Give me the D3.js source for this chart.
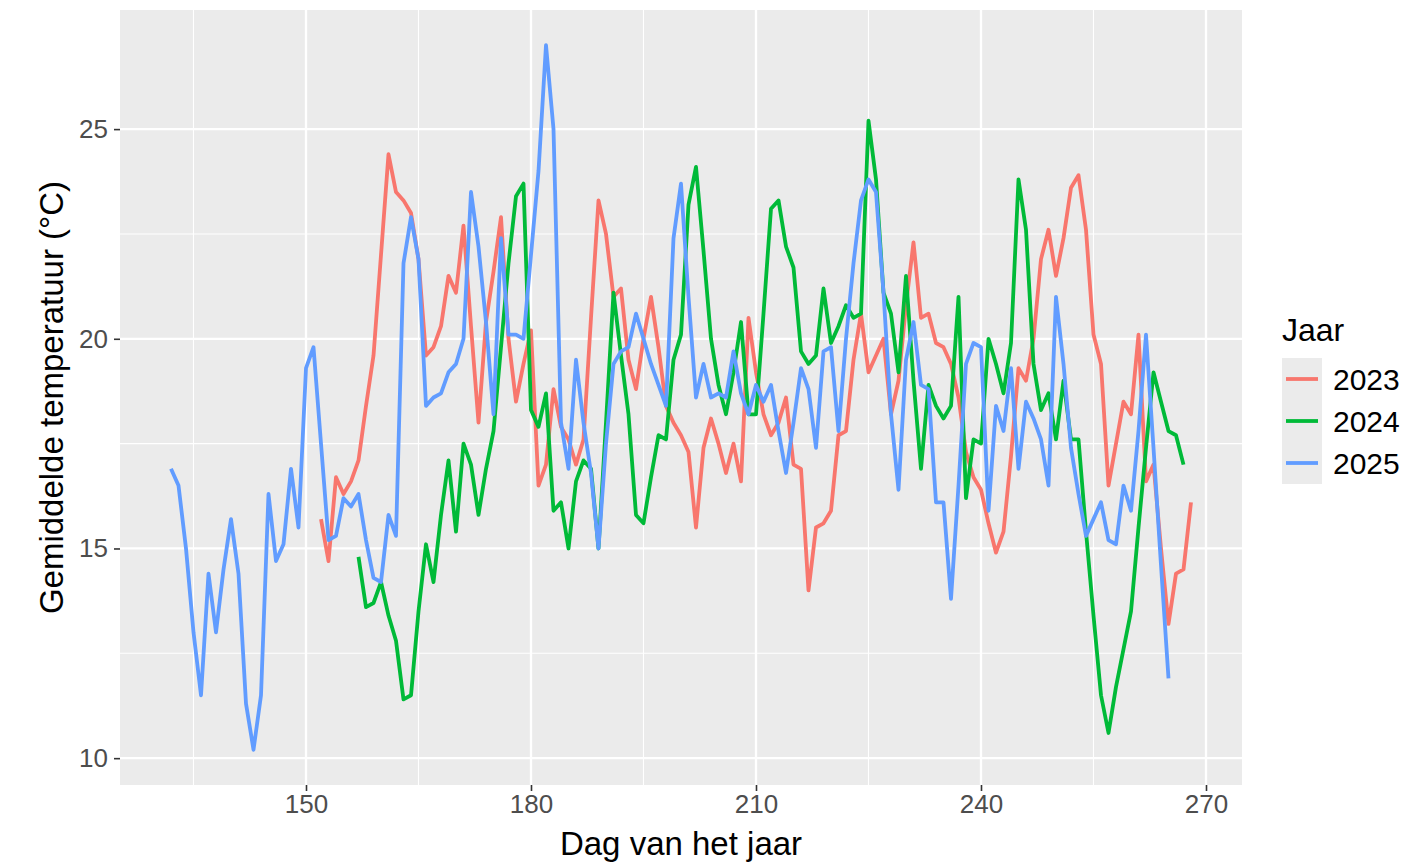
<!DOCTYPE html>
<html>
<head>
<meta charset="utf-8">
<script src="https://cdn.jsdelivr.net/npm/d3@7"></script>
<style>
  body { margin: 0; background: #fff; }
  svg text { font-family: "Liberation Sans", Arial, sans-serif; }
</style>
</head>
<body>
<svg id="chart" width="1426" height="865"></svg>
<script>
// data: mean daily temperature per year, by day of year
var days2023 = d3.range(152, 269);
var temp2023 = [15.7, 14.7, 16.7, 16.3, 16.6, 17.1, 18.4, 19.6, 22.0, 24.4,
  23.5, 23.3, 23.0, 21.9, 19.6, 19.8, 20.3, 21.5, 21.1, 22.7,
  20.3, 18.0, 20.4, 21.6, 22.9, 20.0, 18.5, 19.4, 20.2, 16.5,
  17.0, 18.8, 17.9, 17.6, 17.0, 17.6, 20.5, 23.3, 22.5, 21.0,
  21.2, 19.5, 18.8, 20.0, 21.0, 19.8, 18.4, 18.0, 17.7, 17.3,
  15.5, 17.4, 18.1, 17.5, 16.8, 17.5, 16.6, 20.5, 19.2, 18.2,
  17.7, 18.0, 18.6, 17.0, 16.9, 14.0, 15.5, 15.6, 15.9, 17.7,
  17.8, 19.5, 20.6, 19.2, 19.6, 20.0, 18.2, 19.0, 20.8, 22.3,
  20.5, 20.6, 19.9, 19.8, 19.4, 18.6, 17.3, 16.7, 16.4, 15.6,
  14.9, 15.4, 17.2, 19.3, 19.0, 20.0, 21.9, 22.6, 21.5, 22.4,
  23.6, 23.9, 22.6, 20.1, 19.4, 16.5, 17.5, 18.5, 18.2, 20.1,
  16.6, 17.0, 15.0, 13.2, 14.4, 14.5, 16.1];

var days2024 = d3.range(157, 268);
var temp2024 = [14.8, 13.6, 13.7, 14.2, 13.4, 12.8, 11.4, 11.5, 13.5, 15.1,
  14.2, 15.8, 17.1, 15.4, 17.5, 17.0, 15.8, 16.9, 17.8, 19.8,
  21.8, 23.4, 23.7, 18.3, 17.9, 18.7, 15.9, 16.1, 15.0, 16.6,
  17.1, 16.9, 15.0, 18.0, 21.1, 19.6, 18.2, 15.8, 15.6, 16.7,
  17.7, 17.6, 19.5, 20.1, 23.2, 24.1, 22.1, 20.0, 18.9, 18.2,
  19.2, 20.4, 18.2, 18.2, 20.6, 23.1, 23.3, 22.2, 21.7, 19.7,
  19.4, 19.6, 21.2, 19.9, 20.3, 20.8, 20.5, 20.6, 25.2, 23.8,
  21.1, 20.6, 19.2, 21.5, 19.0, 16.9, 18.9, 18.4, 18.1, 18.4,
  21.0, 16.2, 17.6, 17.5, 20.0, 19.4, 18.7, 19.9, 23.8, 22.6,
  19.4, 18.3, 18.7, 17.6, 19.0, 17.6, 17.6, 15.4, 13.4, 11.5,
  10.6, 11.7, 12.6, 13.5, 15.5, 17.4, 19.2, 18.5, 17.8, 17.7,
  17.0];

var days2025 = d3.range(132, 266);
var temp2025 = [16.9, 16.5, 15.0, 13.0, 11.5, 14.4, 13.0, 14.5, 15.7, 14.4,
  11.3, 10.2, 11.5, 16.3, 14.7, 15.1, 16.9, 15.5, 19.3, 19.8,
  17.5, 15.2, 15.3, 16.2, 16.0, 16.3, 15.2, 14.3, 14.2, 15.8,
  15.3, 21.8, 22.9, 21.9, 18.4, 18.6, 18.7, 19.2, 19.4, 20.0,
  23.5, 22.2, 20.4, 18.2, 22.4, 20.1, 20.1, 20.0, 22.0, 24.0,
  27.0, 25.0, 18.0, 16.9, 19.5, 18.0, 16.8, 15.0, 17.5, 19.4,
  19.7, 19.8, 20.6, 20.0, 19.4, 18.9, 18.4, 22.4, 23.7, 21.0,
  18.6, 19.4, 18.6, 18.7, 18.6, 19.7, 18.7, 18.2, 18.9, 18.5,
  18.9, 17.8, 16.8, 18.0, 19.3, 18.8, 17.4, 19.7, 19.8, 17.8,
  20.0, 21.8, 23.3, 23.8, 23.5, 21.1, 18.2, 16.4, 19.5, 20.4,
  18.9, 18.8, 16.1, 16.1, 13.8, 16.5, 19.4, 19.9, 19.8, 15.9,
  18.4, 17.8, 19.3, 16.9, 18.5, 18.1, 17.6, 16.5, 21.0, 19.4,
  17.4, 16.3, 15.3, 15.7, 16.1, 15.2, 15.1, 16.5, 15.9, 17.8,
  20.1, 17.4, 14.6, 11.9];

var years = ['2023', '2024', '2025'];
var colors = ['#F8766D', '#00BA38', '#619CFF'];
var xTicks = [150, 180, 210, 240, 270];
var xMinor = [135, 165, 195, 225, 255];
var yTicks = [10, 15, 20, 25];
var yMinor = [12.5, 17.5, 22.5];

var series = [
  {year: years[0], days: days2023, temps: temp2023},
  {year: years[1], days: days2024, temps: temp2024},
  {year: years[2], days: days2025, temps: temp2025}
].map(s => ({year: s.year, pts: s.days.map((d, i) => ({day: d, t: s.temps[i]}))}));

var allPts = series.flatMap(s => s.pts);

// ggplot-like 5% expansion
function expand(ext) {
  var pad = (ext[1] - ext[0]) * 0.05;
  return [ext[0] - pad, ext[1] + pad];
}

var panel = {left: 120, top: 10, right: 1242, bottom: 785};

var x = d3.scaleLinear()
  .domain(expand(d3.extent(allPts, d => d.day)))
  .range([panel.left, panel.right]);
var y = d3.scaleLinear()
  .domain(expand(d3.extent(allPts, d => d.t)))
  .range([panel.bottom, panel.top]);
var color = d3.scaleOrdinal().domain(years).range(colors);

var svg = d3.select('#chart');

// panel background
svg.append('rect')
  .attr('x', panel.left).attr('y', panel.top)
  .attr('width', panel.right - panel.left)
  .attr('height', panel.bottom - panel.top)
  .attr('fill', '#EBEBEB');

// grid lines
var grid = svg.append('g');
grid.selectAll('.xminor').data(xMinor).enter().append('line')
  .attr('x1', d => x(d)).attr('x2', d => x(d))
  .attr('y1', panel.top).attr('y2', panel.bottom)
  .attr('stroke', '#fff').attr('stroke-width', 1.1);
grid.selectAll('.yminor').data(yMinor).enter().append('line')
  .attr('y1', d => y(d)).attr('y2', d => y(d))
  .attr('x1', panel.left).attr('x2', panel.right)
  .attr('stroke', '#fff').attr('stroke-width', 1.1);
grid.selectAll('.xmajor').data(xTicks).enter().append('line')
  .attr('x1', d => x(d)).attr('x2', d => x(d))
  .attr('y1', panel.top).attr('y2', panel.bottom)
  .attr('stroke', '#fff').attr('stroke-width', 2.3);
grid.selectAll('.ymajor').data(yTicks).enter().append('line')
  .attr('y1', d => y(d)).attr('y2', d => y(d))
  .attr('x1', panel.left).attr('x2', panel.right)
  .attr('stroke', '#fff').attr('stroke-width', 2.3);

// lines
var line = d3.line().x(d => x(d.day)).y(d => y(d.t));
svg.append('g').selectAll('path')
  .data(series)
  .enter()
  .append('path')
  .attr('d', d => line(d.pts))
  .attr('fill', 'none')
  .attr('stroke', d => color(d.year))
  .attr('stroke-width', 3.8)
  .attr('stroke-linejoin', 'round');

// axes
var xAxis = svg.append('g')
  .attr('transform', 'translate(0,' + panel.bottom + ')')
  .call(d3.axisBottom(x).tickValues(xTicks).tickSize(6).tickPadding(4));
var yAxis = svg.append('g')
  .attr('transform', 'translate(' + panel.left + ',0)')
  .call(d3.axisLeft(y).tickValues(yTicks).tickSize(6).tickPadding(6));
[xAxis, yAxis].forEach(function (a) {
  a.select('.domain').remove();
  a.selectAll('line').attr('stroke', '#333').attr('stroke-width', 1.6);
  a.selectAll('text').attr('fill', '#4D4D4D').style('font-size', '26px');
});

// axis titles
svg.append('text')
  .attr('x', (panel.left + panel.right) / 2)
  .attr('y', 855)
  .attr('text-anchor', 'middle')
  .style('font-size', '33px')
  .text('Dag van het jaar');
svg.append('text')
  .attr('transform', 'translate(63,' + (panel.top + panel.bottom) / 2 + ') rotate(-90)')
  .attr('text-anchor', 'middle')
  .style('font-size', '33px')
  .text('Gemiddelde temperatuur (°C)');

// legend
var legend = svg.append('g').attr('transform', 'translate(1282,0)');
legend.append('text')
  .attr('x', 0).attr('y', 341)
  .style('font-size', '32px')
  .text('Jaar');
var keys = legend.selectAll('.key')
  .data(years)
  .enter()
  .append('g')
  .attr('transform', (d, i) => 'translate(0,' + (358 + i * 42) + ')');
keys.append('rect')
  .attr('width', 40).attr('height', 42)
  .attr('fill', '#EBEBEB');
keys.append('line')
  .attr('x1', 4).attr('x2', 36)
  .attr('y1', 21).attr('y2', 21)
  .attr('stroke', d => color(d))
  .attr('stroke-width', 3.8);
keys.append('text')
  .attr('x', 51).attr('y', 32)
  .style('font-size', '30px')
  .text(d => d);
</script>
</body>
</html>
